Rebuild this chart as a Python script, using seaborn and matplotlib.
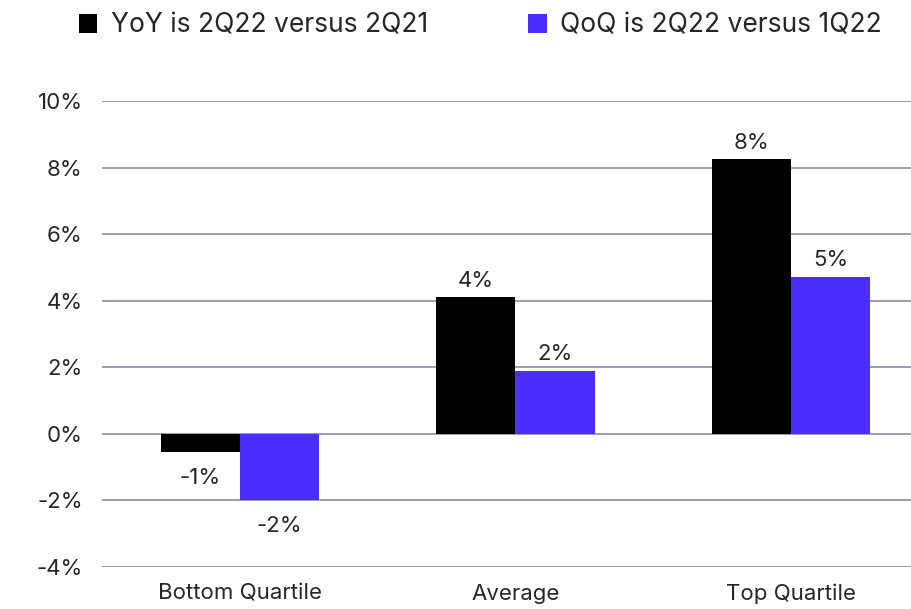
import seaborn as sns
import pandas as pd
import matplotlib.pyplot as plt
from matplotlib.patches import Patch

categories = ["Bottom Quartile", "Average", "Top Quartile"]
series = ["YoY is 2Q22 versus 2Q21", "QoQ is 2Q22 versus 1Q22"]
yoy = [-0.53, 4.1, 8.25]
qoq = [-1.98, 1.9, 4.71]
yoy_labels = ["-1%", "4%", "8%"]
qoq_labels = ["-2%", "2%", "5%"]
colors = ["#000000", "#4B2EFF"]

df = pd.DataFrame({
    "category": categories * 2,
    "series": [series[0]] * 3 + [series[1]] * 3,
    "value": yoy + qoq,
})

sns.set_style("white")
plt.rcParams["font.family"] = ["Inter", "DejaVu Sans"]

fig = plt.figure(figsize=(9.12, 6.09), dpi=100)
ax = fig.add_axes([0.112, 0.069, 0.888, 0.765])

sns.barplot(data=df, x="category", y="value", hue="series", palette=colors,
            saturation=1, width=0.575, gap=0, ax=ax, legend=False, zorder=3,
            linewidth=0)

# percentage labels
for cont, labels in zip(ax.containers, [yoy_labels, qoq_labels]):
    for bar, lab in zip(cont, labels):
        h = bar.get_height()
        x = bar.get_x() + bar.get_width() / 2
        if h >= 0:
            ax.text(x, h + 0.2, lab, ha="center", va="bottom", fontsize=16)
        else:
            ax.text(x, h - 0.5, lab, ha="center", va="top", fontsize=16)

ax.set_ylim(-4, 10)
ax.set_xlim(-0.5, 2.44)
ax.set_yticks(range(-4, 11, 2))
ax.set_yticklabels([f"{v}%" for v in range(-4, 11, 2)], fontsize=16)
ax.tick_params(axis="y", length=0, pad=14)
ax.tick_params(axis="x", length=0, pad=12, labelsize=16)
ax.yaxis.grid(True, color="#8a8a9c", linewidth=1.2, zorder=0)
ax.set_xlabel("")
ax.set_ylabel("")
sns.despine(left=True, bottom=True, right=True, top=True)

# two legend entries placed separately, as in the original
for c, s, xpos in zip(colors, series, [0.0865, 0.579]):
    fig.legend([Patch(facecolor=c, edgecolor="none")], [s], loc="center left",
               bbox_to_anchor=(xpos, 0.958), frameon=False, fontsize=19,
               handlelength=0.7, handleheight=0.7, handletextpad=0.5,
               borderaxespad=0, borderpad=0)

plt.savefig("out.png", dpi=100)
